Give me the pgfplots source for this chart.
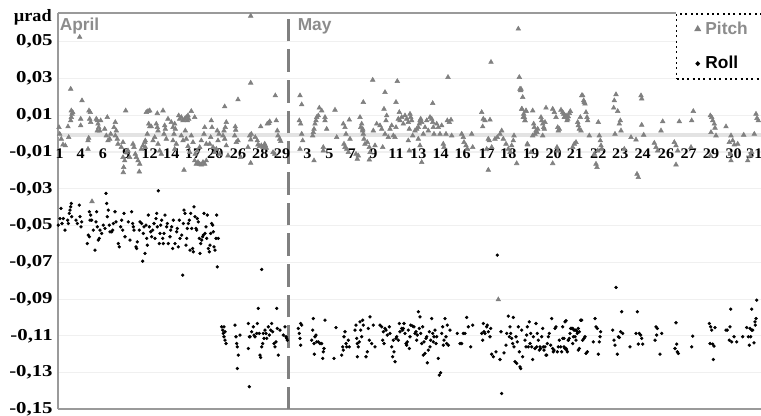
\documentclass[border=0pt]{standalone}
\usepackage{fontspec}
\setmainfont{Liberation Serif}
\newfontfamily\arial{Liberation Sans}
\usepackage{pgfplots}
\pgfplotsset{compat=1.18}
\definecolor{pgray}{HTML}{808080}
\definecolor{tgray}{HTML}{8C8C8C}
\definecolor{agray}{HTML}{9A9A9A}
\newcommand\dl[2]{\node[anchor=base, inner sep=0pt, xscale=1.1, font=\fontsize{11}{13}\selectfont\bfseries] at (axis cs:#1,-0.0136) {#2};}
\begin{document}
\begin{tikzpicture}
\begin{axis}[
  at={(0,0)}, anchor=south west,
  scale only axis,
  width=527.25pt, height=297.2pt,
  xmin=58, xmax=761,
  ymin=-0.15, ymax=0.0656,
  axis x line*=bottom, axis y line*=left,
  axis line style={agray, line width=1.4pt},
  xtick=\empty,
  ytick={-0.15,-0.13,-0.11,-0.09,-0.07,-0.05,-0.03,-0.01,0.01,0.03,0.05},
  yticklabels={{-0,15},{-0,13},{-0,11},{-0,09},{-0,07},{-0,05},{-0,03},{-0,01},{0,01},{0,03},{0,05}},
  yticklabel style={font=\fontsize{12.5}{15}\selectfont\bfseries, xscale=1.25, inner xsep=3pt},
  major tick length=0pt,
  ymajorgrids,
  grid style={gray!12, line width=0.8pt},
  clip=false,
  legend image code/.code={\path[draw=none, fill=none] (0pt,0pt) -- (13.5pt,0pt); \draw[#1] plot coordinates {(9.75pt,0pt)};},
  legend style={at={(axis cs:676,0.0656)}, anchor=north west,
    draw=black, line width=1.1pt, dash pattern=on 1.5pt off 2.5pt,
    fill=white, font=\arial\bfseries\fontsize{13}{15}\selectfont,
    row sep=11pt, inner xsep=6pt, inner ysep=4pt,
    nodes={text width=42pt}},
  legend cell align=left,
]
% zero band and separator
\draw[gray!22, line width=3pt] (axis cs:58,-0.0008) -- (axis cs:761,-0.0008);
\draw[agray, line width=1.4pt] (axis cs:58,0.0656) -- (axis cs:676,0.0656);

% Pitch
\addplot[only marks, mark=triangle*, mark size=2pt, color=pgray] coordinates {
(59,0.0034)(59.7,-0.0002)(61.3,-0.0029)(63,-0.006)(65.3,-0.0065)(68,0.0038)(68.7,-0.002)(70.7,0.0243)(71.3,0.0125)(72,0.0107)(71.3,0.0089)(70.7,0.0071)(72.7,0.0116)(79.7,0.0525)(82,0.018)(80.7,0.008)(80.7,0.0044)(88,-0.0084)(88,-0.0038)(88.7,-0.0024)(89,0.0125)(90.3,0.0116)(89.7,0.008)(90.7,0.0062)(92,-0.0369)(96.3,0.008)(97.3,0.0071)(98,0.0053)(98.7,0.0034)(99.7,0.0016)(97.3,0.0016)(100.7,0.0071)(107.3,0.0089)(104.7,0.0025)(106.3,-0.0011)(108,-0.0038)(109.7,-0.0029)(110.7,-0.0002)(114,0.0034)(115.3,0.0062)(116.3,0.0016)(115.3,-0.0011)(117.3,-0.0029)(118,-0.0056)(121.3,-0.0074)(123,-0.0047)(123,-0.0129)(124.7,-0.0147)(123.7,-0.0183)(123.3,-0.0211)(125.7,0.0125)(126.3,-0.0102)(128,-0.0093)(129.7,-0.0129)(133,-0.0056)(134,-0.0074)(135.3,-0.0111)(136.3,-0.0129)(138,-0.0147)(139.7,-0.0165)(139.3,-0.0207)(141.3,-0.0084)(143,-0.0065)(144.7,-0.0047)(145.3,-0.0074)(146.3,0.0116)(148,0.0122)(149.7,0.0125)(148.7,0.0053)(149.7,0.0038)(151.3,0.0038)(147.3,-0.0002)(145.3,-0.0038)(157.3,0.011)(156.3,0.0053)(157.3,0.0034)(158,0.0016)(154.7,-0.002)(153,-0.0038)(158,-0.0056)(159.7,-0.0093)(161.3,-0.0111)(163,0.0125)(164.7,0.0044)(165.3,0.0025)(164,-0.0002)(166.3,-0.0029)(168,0.008)(171.3,0.0062)(173,0.0034)(174.7,0.0053)(175.3,0.0025)(174,-0.0002)(173,-0.0038)(176.3,-0.0056)(174.7,-0.0084)(178.7,0.0098)(179.7,0.008)(181.3,0.0089)(183,0.0071)(184.7,0.008)(186.3,0.0089)(188,0.0098)(187.3,0.0071)(188.7,0.008)(191.3,0.0122)(194.7,0.0089)(184,-0.0198)(181.3,-0.0011)(183,-0.0038)(185.3,0.0016)(186.3,-0.0029)(188,-0.0069)(189.7,-0.0102)(191.3,-0.0011)(193,-0.0047)(194.7,-0.0147)(196.3,-0.0165)(198,-0.0156)(199.7,-0.0165)(201.3,-0.0169)(203,-0.0156)(204.7,-0.0165)(206.3,-0.0147)(195.3,-0.0111)(197.3,-0.0093)(199.7,-0.0074)(201.3,-0.0038)(204,-0.0002)(204.7,0.0034)(206.3,-0.0056)(211.3,0.0071)(212,0.0034)(210.7,-0.002)(209.7,-0.0056)(213,-0.0074)(214.7,-0.0102)(216.3,-0.0084)(218,-0.0038)(219,-0.0002)(217.3,0.0016)(219.7,-0.0111)(224.7,0.0147)(226.3,0.0062)(225.3,0.0034)(224,0.0016)(223,-0.0011)(224.7,-0.0029)(226.3,-0.0065)(228,-0.012)(235.3,0.0038)(235.7,0.002)(234.7,-0.0011)(236.3,-0.0047)(238,-0.0038)(240.7,-0.0129)(238,0.0185)(250.7,0.0276)(250.7,0.064)(249.7,-0.0011)(250.7,-0.0033)(251.3,-0.0002)(248,-0.0074)(250.7,-0.016)(255.3,-0.002)(257.3,-0.0038)(258,-0.006)(259.7,-0.0069)(260.7,0.0038)(261.3,-0.0065)(263,-0.0074)(264.7,-0.0056)(265.3,-0.0065)(266.3,-0.0078)(267.3,0.0053)(268.7,0.0057)(269.7,0.0066)(275.3,0.0207)(276.3,0.0071)(277.3,0.0016)(278,-0.0011)(279.7,-0.0029)(280.7,-0.0042)(273,-0.0102)(274.7,-0.0111)
(300,0.0207)(301.7,0.0158)(299.3,0.0071)(300.7,0.0053)(301.7,-0.0002)(302.7,-0.0038)(300,-0.0084)(312.7,-0.0011)(313.3,0.0007)(314,0.0025)(315,0.0053)(316,0.0071)(316.7,0.0089)(318.3,0.0098)(314,-0.0147)(319.3,0.014)(321.7,0.0125)(323.3,-0.0074)(323.3,-0.0093)(325,0.0089)(325,0.0071)(326.7,0.0025)(335,0.0129)(336.7,-0.002)(343.3,0.0053)(345,0.0034)(346,-0.0002)(344,-0.0056)(345,-0.0074)(346.7,-0.0084)(348.3,-0.0102)(349.3,0.0075)(350,-0.0029)(356,-0.0111)(357.3,-0.0138)(358.3,-0.012)(360,0.0089)(360.7,0.0034)(361.7,0.0053)(362.7,0.0025)(363.3,-0.0002)(364,-0.0029)(365,-0.0056)(363.3,0.0171)(362.7,0.0016)(367.3,-0.0047)(369.3,-0.0074)(370,-0.0102)(369.3,-0.0142)(372.7,0.0292)(373.3,0.0016)(375,-0.0065)(376.7,0.0053)(380,0.0044)(381.7,0.0025)(382.7,-0.0074)(384,0.0134)(385,0.0225)(386,0.0071)(386.7,0.0098)(385,-0.0002)(388.3,-0.002)(390,0.0025)(391.7,0.0044)(393.3,-0.0011)(395,-0.002)(396,0.0034)(396,0.0171)(397.3,0.0285)(398.3,0.008)(399.3,0.0116)(400,0.0071)(401.7,0.0089)(403.3,0.0053)(405,0.0098)(406.7,0.008)(408.3,0.0062)(409.3,0.0025)(410,0.0107)(410.7,0.0089)(411.7,0.0071)(408.3,-0.0038)(409.3,-0.0093)(412.7,-0.0011)(415,0.0016)(416.7,0.0025)(418.3,0.0034)(419.3,0.0053)(420,0.0071)(420.7,0.008)(421.7,0.0062)(418.3,-0.0029)(420,-0.0065)(421.7,-0.0156)(423.3,-0.0002)(425,0.0034)(426.7,0.0071)(428.3,0.0016)(430,0.0089)(431.7,0.008)(432.7,0.0062)(433.3,0.0034)(434,-0.0002)(432.7,0.0165)(436.7,0.0053)(438.3,0.0034)(440,-0.0002)(441.7,0.0044)(443.3,-0.0056)(444,-0.0074)(446,-0.0002)(447.3,0.0071)(448,0.0307)(449.3,0.0062)(451,0.0075)(451.7,-0.0011)(461.7,-0.0002)(463.3,-0.002)(464,-0.0047)(466,-0.0065)(467.3,-0.0084)(471.7,-0.0002)(472.7,-0.0074)(481.7,0.0116)(483.3,0.008)(482.7,0.0038)(485,0.0071)(490,0.0075)(491,0.0389)(488.3,-0.0029)(489.3,-0.0038)(486.7,-0.0084)(491.7,-0.0074)(488.3,-0.0198)(498.3,-0.0903)(495,-0.0029)(497.3,-0.002)(500,-0.0002)(501.7,0.0016)(503.3,-0.0029)(506,-0.0056)(508.3,-0.0084)(510,-0.0102)(511.7,-0.0065)(513.3,-0.0038)(514,-0.0011)(516.7,-0.0162)(518.3,0.057)(519.3,0.0307)(520,0.0243)(520.7,0.0234)(521.7,0.0134)(523.3,0.0089)(525,0.0071)(526,0.0122)(527.3,-0.0056)
(521,0.0243)(522.7,0.0198)(522,0.0134)(523.7,0.0107)(524.3,0.0089)(526,0.0125)(525,0.0071)(527.7,-0.006)(532.7,0.0125)(533.7,0.0053)(534.3,0.0034)(536,0.0016)(535,-0.0002)(537,0.0007)(532.7,-0.0011)(537.7,0.0025)(531,-0.0102)(541,0.0089)(541.7,0.0071)(542.7,0.0053)(543.7,0.0034)(544.3,0.0025)(545,0.0062)(546,0.014)(542.7,-0.0011)(552.7,0.0134)(554.3,0.0116)(556,0.0089)(557.7,0.0034)(558.3,0.0016)(559.3,0.0025)(557,-0.0074)(552.7,-0.0162)(557.7,-0.0093)(561,0.0129)(562.7,0.0116)(563.7,0.0107)(564.3,0.0089)(566,0.0098)(567,0.0071)(567.7,0.008)(569.3,0.0111)(570.3,0.0122)(565,0.0089)(568.3,0.0093)(572.7,-0.0074)(574.3,-0.0056)(576,-0.0047)(577.7,0.0062)(578.3,0.0044)(579.3,0.0025)(580.3,0.0089)(581,0.0016)(581.7,0.0207)(582.7,0.0207)(583.7,0.018)(584.3,0.0171)(585,0.0162)(586,0.0116)(587,0.0089)(587.7,0.0071)(589.3,-0.0011)(594.3,-0.0111)(596,-0.0165)(597,-0.0183)(598.3,0.0062)(599.3,-0.0011)(600.3,-0.0038)(601,-0.0065)(601.7,-0.0084)(597.7,-0.0093)(613.7,0.014)(614.3,0.018)(616,0.0213)(617.7,0.0122)(619.3,0.0053)(620.3,0.0071)(621,0.0016)(615,-0.0002)(624.3,-0.0084)(631,-0.002)(636,-0.0033)(637,-0.022)(638.3,-0.0238)(641,0.0207)(641.7,0.019)(641.7,0.0047)(643.7,-0.0007)(654.3,-0.0051)(656,-0.0074)(657.7,-0.0093)(661,0.0016)(662.7,0.0066)(674.3,-0.0047)(676,-0.0065)(677.7,-0.0093)(676,-0.0169)(679.3,0.0066)(691.7,0.0071)(693.3,0.0122)(691,-0.0074)(710.3,0.0098)(711.7,0.0089)(712.7,0.0071)(714.3,0.0053)(715,0.0031)(716,-0.0011)(711,0.0007)(710.3,-0.012)(726,0.0038)(729.3,-0.0047)(731,-0.0011)(732.7,-0.0038)(734.3,-0.006)(730.3,-0.0111)(731,-0.0147)(737.7,-0.0056)(743.7,-0.0007)(747.7,-0.0147)(750.3,-0.012)(751.7,-0.0102)(754.3,-0.0002)(756,0.0107)(757,0.0084)(758.3,0.0071)
};
\addlegendentry{\textcolor{tgray}{Pitch}}

% Roll
\addplot[only marks, mark=*, mark size=1.05pt, color=black] coordinates {
(58.3,-0.0498)(60,-0.0462)(61,-0.0407)(62,-0.0489)(63.3,-0.0462)(65,-0.0525)(67.7,-0.0471)(68.3,-0.0489)(69.3,-0.0434)(70,-0.0416)(70.7,-0.0398)(71.3,-0.038)(71.7,-0.0452)(76,-0.0471)(77.3,-0.0489)(79.3,-0.0389)(80,-0.0452)(81,-0.0507)(81.7,-0.048)(87.3,-0.0598)(88.3,-0.0552)(89.3,-0.0561)(90,-0.0471)(90.7,-0.0443)(91.7,-0.0471)(89.3,-0.0425)(93.3,-0.0525)(95,-0.0634)(96,-0.048)(96.7,-0.0425)(97.3,-0.0507)(98.3,-0.0579)(99.3,-0.057)(100,-0.0525)(101.7,-0.0543)(103.3,-0.0498)(105,-0.0516)(106,-0.0325)(106.7,-0.038)(107.3,-0.0452)(108.3,-0.0416)(109.3,-0.0498)(110,-0.0534)(111.7,-0.0534)(112.7,-0.0525)(113.3,-0.0489)(115,-0.0425)(116,-0.048)(118.3,-0.0598)(119.3,-0.0616)(120.7,-0.0507)(121.7,-0.0471)(122.7,-0.0525)(124,-0.0434)(125,-0.0561)(128.3,-0.048)(130,-0.0579)(131.7,-0.0425)(132.7,-0.0489)(133.3,-0.0507)(134,-0.0525)(136,-0.0616)(136.7,-0.0625)(137.3,-0.0589)(139.3,-0.0525)(140,-0.048)(141.7,-0.0489)(142.7,-0.0694)(143.3,-0.0543)(144,-0.0507)(145,-0.0652)(146,-0.0498)(146.7,-0.057)(147.3,-0.0607)(148.3,-0.0443)(149.3,-0.0507)(150.7,-0.0534)(151.7,-0.0561)(152.7,-0.0525)(154,-0.0489)(155,-0.057)(156,-0.0462)(156.7,-0.0434)(157.3,-0.0507)(158.3,-0.0311)(159.3,-0.0598)(160,-0.0543)(160.7,-0.0498)(161.7,-0.0471)(162.7,-0.057)(163.3,-0.0598)(164,-0.0543)(165,-0.0443)(166.7,-0.0507)(167.3,-0.0489)(168.3,-0.0598)(170,-0.0561)(170.7,-0.0525)(171.7,-0.0507)(172.7,-0.0625)(173.3,-0.0471)(175,-0.0598)(176.7,-0.0534)(177.3,-0.0516)(178.3,-0.0616)(179.3,-0.0471)(180,-0.057)(181.7,-0.0552)(182.7,-0.077)(183.3,-0.0489)(184,-0.0416)(185,-0.0434)(186,-0.0607)(186.7,-0.057)(187.3,-0.0516)(188.3,-0.0489)(189.3,-0.0471)(190,-0.0634)(190.7,-0.0434)(191.7,-0.0516)(192.7,-0.0625)(193.3,-0.0643)(194,-0.0398)(195,-0.0452)(196,-0.0516)(196.7,-0.0525)(197.3,-0.0462)(198.3,-0.048)(199.3,-0.057)(200,-0.0652)(200.7,-0.0598)(201.7,-0.0579)(202.7,-0.0561)(203.3,-0.0552)(204,-0.0434)(205,-0.0543)(206,-0.0507)(206.7,-0.057)(207.3,-0.0443)(208.3,-0.0625)(209.3,-0.0643)(210,-0.0607)(210.7,-0.0543)(211.7,-0.0489)(212.7,-0.0498)(213.3,-0.0534)(214,-0.0616)(215,-0.0634)(216,-0.057)(216.7,-0.0443)(217.3,-0.0725)(218.3,-0.057)
(221.7,-0.1051)(222.7,-0.1069)(223.3,-0.1087)(224,-0.1105)(225,-0.1078)(226,-0.1142)(225,-0.1124)(224,-0.1051)(235,-0.1042)(236,-0.1105)(236.7,-0.1142)(237.3,-0.116)(238.3,-0.1205)(237.3,-0.1278)(240,-0.1096)(248.3,-0.1033)(249.3,-0.1105)(248.3,-0.1169)(250,-0.1105)(251.7,-0.1078)(253.3,-0.1051)(254,-0.1096)(255,-0.1105)(256.7,-0.1087)(257.3,-0.1033)(258.3,-0.0951)(259.3,-0.1087)(260,-0.1205)(260.7,-0.1218)(261.7,-0.0739)(261.7,-0.116)(262.7,-0.1142)(263.3,-0.1087)(264,-0.1114)(265,-0.1069)(266,-0.1087)(266.7,-0.1114)(268.3,-0.1051)(269.3,-0.1096)(270.7,-0.1069)(271.7,-0.1033)(272.7,-0.1078)(274,-0.1142)(275,-0.116)(276,-0.1133)(276.7,-0.0951)(277.3,-0.106)(278.3,-0.1205)(280,-0.1069)(283.3,-0.1096)(285,-0.1051)(286,-0.1105)(286.7,-0.1114)(287.3,-0.1124)(249.3,-0.1377)
(298.3,-0.106)(299.3,-0.1087)(300,-0.1114)(300.7,-0.1151)(301.7,-0.1042)(300.7,-0.1033)(311.7,-0.1124)(312.7,-0.1069)(313.3,-0.1006)(314,-0.1142)(315,-0.1105)(316,-0.1096)(316.7,-0.1133)(318.3,-0.1133)(320,-0.1142)(321.7,-0.1142)(322.7,-0.1223)(323.3,-0.1187)(324,-0.1169)(325,-0.1015)(314.3,-0.12)(334,-0.1223)(336,-0.1055)(341.7,-0.1205)(342.7,-0.116)(343.3,-0.1178)(344,-0.1105)(345,-0.1078)(346,-0.1142)(346.7,-0.116)(348.3,-0.1124)(349.3,-0.116)(355,-0.1069)(356,-0.1042)(356.7,-0.1114)(357.3,-0.1142)(358.3,-0.116)(359.3,-0.1133)(360,-0.1024)(360.7,-0.1069)(361.7,-0.1105)(362.7,-0.1015)(363.3,-0.1042)(357.3,-0.1214)(366,-0.1214)(367.3,-0.1187)(368.3,-0.106)(369.3,-0.1124)(370,-0.0997)(371.7,-0.1142)(373.3,-0.1042)(375,-0.116)(380,-0.1042)(381.7,-0.1051)(382.7,-0.1124)(383.3,-0.1078)(384,-0.1142)(385,-0.106)(386,-0.1069)(387.3,-0.1096)(389.3,-0.1051)(390,-0.1087)(391.7,-0.116)(392.7,-0.1214)(393.3,-0.1124)(394,-0.1187)(395,-0.1241)(396,-0.1114)(396.7,-0.1105)(398.3,-0.1124)(399.3,-0.1033)(400,-0.1078)(401.7,-0.106)(402.7,-0.1069)(403.3,-0.106)(404,-0.1033)(405,-0.1087)(406,-0.1142)(406.7,-0.1151)(407.3,-0.1133)(408.3,-0.1069)(409.3,-0.1169)(410,-0.1105)(410.7,-0.1042)(412.7,-0.1047)(414,-0.1051)(415,-0.1087)(416,-0.1078)(416.7,-0.1124)(417.3,-0.1096)(418.3,-0.0969)(419.3,-0.106)(420,-0.0997)(420.7,-0.1087)(421.7,-0.1142)(422.7,-0.1051)(423.3,-0.1205)(424,-0.1133)(425,-0.1196)(426,-0.1114)(426.7,-0.1105)(427.3,-0.1247)(428.3,-0.1178)(429.3,-0.1078)(430,-0.116)(430.7,-0.1124)(431.7,-0.1006)(432.7,-0.1087)(433.3,-0.1133)(434,-0.1105)(435,-0.1069)(436,-0.1142)(436.7,-0.1105)(438.3,-0.1223)(439.3,-0.1314)(440.7,-0.1301)(441.7,-0.1087)(442.7,-0.1051)(443.3,-0.1151)(444,-0.1124)(445,-0.1006)(446,-0.1105)(446.7,-0.1142)(447.3,-0.1042)(448.3,-0.1151)(450,-0.1069)(457.3,-0.1087)(460,-0.1142)(461.7,-0.1142)(463.3,-0.1087)(465,-0.1087)(466.7,-0.1)(468.3,-0.1051)(470.7,-0.116)(472.7,-0.1042)(481.7,-0.1087)(482.7,-0.1124)(483.3,-0.1033)(484,-0.1078)(485,-0.1087)(486.7,-0.1051)(487.3,-0.1042)(488.3,-0.1078)(490,-0.1105)(490.7,-0.106)(491.7,-0.12)(493.3,-0.1214)(496,-0.1187)(497.3,-0.0661)(500,-0.1229)(501,-0.1078)(501.7,-0.1414)(504,-0.1193)(506,-0.1151)(506.7,-0.1087)(508.3,-0.0993)(509.3,-0.1105)(510,-0.1051)(510.7,-0.1087)(511.7,-0.1114)(512.7,-0.1142)(513.3,-0.1)(514,-0.116)(515,-0.1241)(516,-0.1105)(516.7,-0.125)(517.3,-0.1133)(518.3,-0.1051)(519.3,-0.1187)(520,-0.1269)(520.7,-0.1278)(521.7,-0.1069)(522.7,-0.1214)(525,-0.1124)(526,-0.116)(526.7,-0.1096)(527.3,-0.1051)(528.3,-0.116)(529.3,-0.1024)(530,-0.1142)(530.7,-0.1087)(531.7,-0.116)(532.7,-0.1229)(533.3,-0.1105)(535,-0.1169)(536,-0.1033)(536.7,-0.116)(537.3,-0.1087)(538.3,-0.1124)(539.3,-0.1178)(540,-0.116)(540.7,-0.1169)(541.7,-0.1105)(542.7,-0.106)(543.3,-0.116)(544,-0.1178)(545,-0.116)(546,-0.1205)(546.7,-0.1205)(547.3,-0.1142)(548.3,-0.1105)(549.3,-0.1087)(550.7,-0.1151)(551.7,-0.1006)(552.7,-0.1169)(553.3,-0.1187)(554,-0.1178)(555,-0.106)(556,-0.1051)(557.3,-0.1187)(558.3,-0.116)(559.3,-0.1124)(560.7,-0.116)(561.7,-0.1187)(562.7,-0.1051)(564,-0.1114)(565,-0.1169)(566,-0.1018)(566.7,-0.1178)(568.3,-0.1124)(570,-0.1087)(571.7,-0.106)(572.7,-0.106)(574,-0.1069)(575,-0.1105)(576,-0.1069)(577.3,-0.1087)(578.3,-0.106)(579.3,-0.1169)
(562.7,-0.1114)(564,-0.116)(565,-0.1024)(566,-0.1169)(567.3,-0.1187)(568.3,-0.1124)(569.3,-0.1114)(570.7,-0.106)(572.7,-0.1142)(573.3,-0.1105)(575,-0.1069)(576,-0.1124)(577.3,-0.1078)(578.3,-0.1178)(579.3,-0.1078)(580.7,-0.1015)(581.7,-0.1015)(582.7,-0.1124)(584,-0.1114)(585,-0.1105)(586,-0.1196)(587.3,-0.1187)(593.3,-0.1133)(595,-0.1006)(596,-0.1051)(597.3,-0.106)(598.3,-0.12)(599.3,-0.1133)(600,-0.1105)(600.7,-0.1078)(612.7,-0.1069)(614,-0.1124)(615,-0.1151)(616,-0.0837)(617.3,-0.12)(618.3,-0.1105)(619.3,-0.1109)(620.7,-0.1078)(621.7,-0.0969)(622.7,-0.1087)(630,-0.116)(636,-0.1087)(637.3,-0.0969)(638.3,-0.1145)(639.3,-0.1087)(640.7,-0.1096)(641.7,-0.1114)(642.7,-0.1145)(655,-0.1124)(656,-0.1051)(656.7,-0.1096)(657.3,-0.106)(660,-0.12)(661.7,-0.1087)(675,-0.1169)(676,-0.1029)(676.7,-0.1145)(677.3,-0.1187)(678.3,-0.1196)(691.7,-0.116)(692.7,-0.1102)(709.3,-0.1033)(710,-0.1142)(710.7,-0.1051)(711.7,-0.1069)(712.7,-0.1145)(713.3,-0.1229)(714,-0.1156)(715,-0.1055)(726,-0.1069)(727.3,-0.1069)(729.3,-0.1124)(730,-0.1051)(730.7,-0.0955)(731.7,-0.1133)(734,-0.1105)(736.7,-0.1133)(742.7,-0.1105)(746.7,-0.1055)(748.3,-0.1105)(749.3,-0.1151)(750,-0.106)(750.7,-0.1105)(751.7,-0.1069)(751.7,-0.0955)(752.7,-0.1069)(754,-0.1138)(755,-0.1024)(755.3,-0.1042)(756,-0.1006)(756.7,-0.0906)
};
\addlegendentry{Roll}

% month separator
\draw[pgray, line width=2pt, dash pattern=on 17pt off 6pt] (axis cs:288.3,-0.15) -- (axis cs:288.3,0.0656);

% day labels
\dl{59.7}{1}\dl{80.7}{4}\dl{103}{6}\dl{126.3}{9}\dl{149.7}{12}\dl{171.3}{14}\dl{193}{17}\dl{215.3}{20}
\dl{238}{26}\dl{260.3}{28}\dl{282}{29}
\dl{307.3}{3}\dl{329.3}{5}\dl{351.7}{7}\dl{373.3}{9}\dl{396}{11}\dl{418.3}{13}\dl{440.7}{14}\dl{462.7}{16}
\dl{486.7}{17}\dl{508.3}{18}\dl{531}{19}\dl{553.7}{20}\dl{575}{21}\dl{598.3}{22}\dl{620.3}{23}\dl{642.7}{24}
\dl{666}{26}\dl{688.7}{27}\dl{711}{29}\dl{733.7}{30}\dl{754.3}{31}

% month names and unit
\node[anchor=base west, inner sep=0pt, text=tgray, font=\arial\bfseries\fontsize{13}{15}\selectfont] at (axis cs:59.5,0.0563) {April};
\node[anchor=base west, inner sep=0pt, text=tgray, font=\arial\bfseries\fontsize{13}{15}\selectfont] at (axis cs:297.5,0.0563) {May};
\node[anchor=base east, inner sep=0pt, xscale=1.05, font=\bfseries\fontsize{13}{15}\selectfont] at (axis cs:52,0.0608) {µrad};
\end{axis}
\pgfresetboundingbox
\path[use as bounding box] (-43.5pt,-5pt) rectangle (527.25pt,307pt);
\end{tikzpicture}
\end{document}
